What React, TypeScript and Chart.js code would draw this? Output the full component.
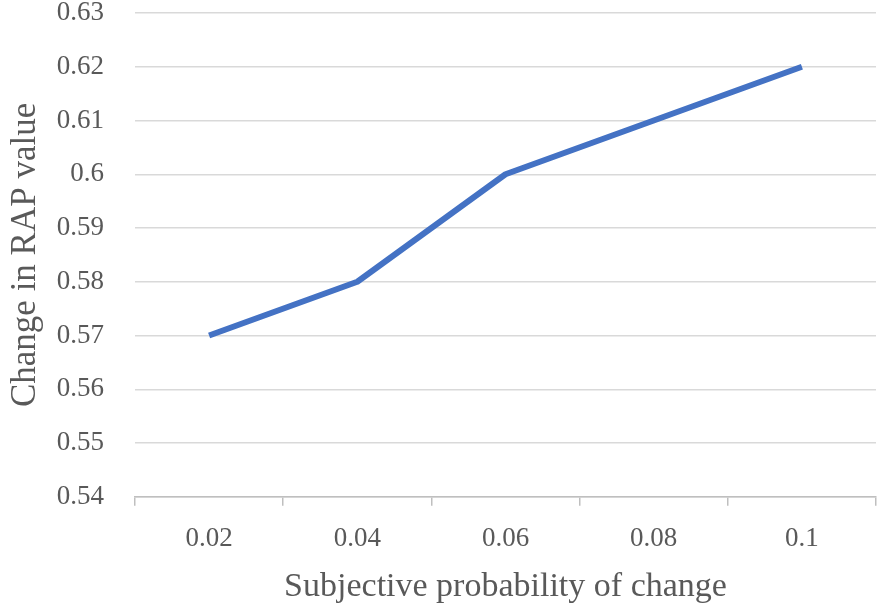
import React, { useEffect, useRef } from "react";
import { Chart, registerables } from "chart.js";

Chart.register(...registerables);

const categories = ["0.02", "0.04", "0.06", "0.08", "0.1"];
const values = [0.57, 0.58, 0.6, 0.61, 0.62];
const xTitle = "Subjective probability of change";
const yTitle = "Change in RAP value";

const FONT = "'Liberation Serif', serif";

export default function App() {
  const ref = useRef<HTMLCanvasElement | null>(null);
  useEffect(() => {
    document.body.style.margin = "0";
    const chart = new Chart(ref.current!, {
      type: "line",
      data: {
        labels: categories,
        datasets: [
          {
            data: values,
            borderColor: "#4472C4",
            borderWidth: 6,
            borderJoinStyle: "round",
            pointRadius: 0,
            tension: 0,
            fill: false,
          },
        ],
      },
      options: {
        animation: false,
        responsive: true,
        maintainAspectRatio: false,
        layout: { autoPadding: false, padding: { top: 0, right: 10, left: 0, bottom: 4 } },
        plugins: { legend: { display: false }, tooltip: { enabled: false } },
        scales: {
          x: {
            offset: true,
            grid: {
              offset: true,
              drawOnChartArea: false,
              drawTicks: true,
              tickLength: 9,
              color: "#bfbfbf",
              lineWidth: 1.5,
            },
            border: { display: true, color: "#bfbfbf", width: 1.5 },
            ticks: { color: "#595959", font: { family: FONT, size: 27 }, padding: 17 },
            title: {
              display: true,
              text: xTitle,
              color: "#595959",
              font: { family: FONT, size: 34 },
              padding: { top: -6, bottom: 0 },
            },
          },
          y: {
            min: 0.54,
            max: 0.63,
            afterFit: (s: any) => {
              s.width = 135;
              s.paddingTop = 13;
              s.paddingBottom = 13;
            },
            ticks: {
              stepSize: 0.01,
              color: "#595959",
              font: { family: FONT, size: 27 },
              padding: 31,
              callback: (v: any) => String(Math.round(Number(v) * 100) / 100),
            },
            grid: { color: "#d9d9d9", lineWidth: 1.5, drawTicks: false },
            border: { display: false },
            title: {
              display: true,
              text: yTitle,
              color: "#595959",
              font: { family: FONT, size: 35 },
              padding: { top: 5, bottom: 0 },
            },
          },
        },
      },
    });
    return () => chart.destroy();
  }, []);
  return (
    <div style={{ width: 886, height: 611, position: "relative" }}>
      <canvas ref={ref} />
    </div>
  );
}
